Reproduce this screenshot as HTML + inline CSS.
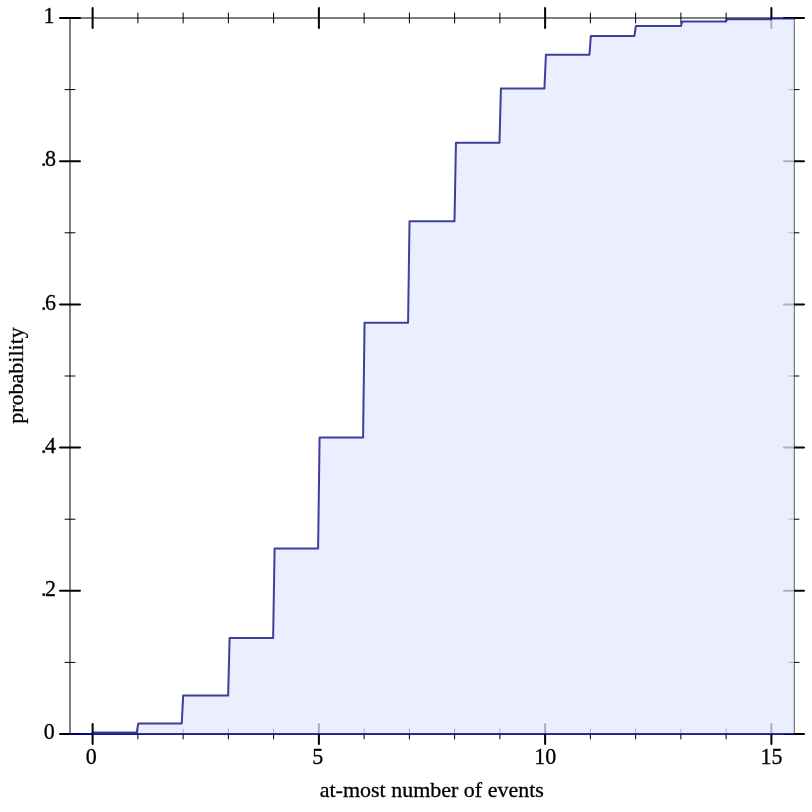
<!DOCTYPE html>
<html lang="en">
<head>
<meta charset="utf-8">
<title>Poisson CDF plot</title>
<style>
html,body{margin:0;padding:0;background:#fff;}
body{width:812px;height:812px;overflow:hidden;}
svg{display:block;}
text{font-family:"Liberation Serif","DejaVu Serif",serif;font-size:22px;fill:#000;}
</style>
</head>
<body>
<svg width="812" height="812" viewBox="0 0 812 812">
<rect x="0" y="0" width="812" height="812" fill="#fff"/>

<g fill="none" stroke="#000">
<rect x="70" y="18" width="724" height="716" stroke-width="1" stroke-opacity="1"/>
<path d="M92.62 8 V28 M92.62 724 V744 M318.88 8 V28 M318.88 724 V744 M545.12 8 V28 M545.12 724 V744 M771.38 8 V28 M771.38 724 V744 M60 734 H80 M784 734 H804 M60 590.8 H80 M784 590.8 H804 M60 447.6 H80 M784 447.6 H804 M60 304.4 H80 M784 304.4 H804 M60 161.2 H80 M784 161.2 H804 M60 18 H80 M784 18 H804" stroke-width="2" stroke-linecap="round"/>
<path d="M137.88 13 V23 M137.88 729 V739 M183.12 13 V23 M183.12 729 V739 M228.38 13 V23 M228.38 729 V739 M273.62 13 V23 M273.62 729 V739 M364.12 13 V23 M364.12 729 V739 M409.38 13 V23 M409.38 729 V739 M454.62 13 V23 M454.62 729 V739 M499.88 13 V23 M499.88 729 V739 M590.38 13 V23 M590.38 729 V739 M635.62 13 V23 M635.62 729 V739 M680.88 13 V23 M680.88 729 V739 M726.12 13 V23 M726.12 729 V739 M65 662.4 H75 M789 662.4 H799 M65 519.2 H75 M789 519.2 H799 M65 376 H75 M789 376 H799 M65 232.8 H75 M789 232.8 H799 M65 89.6 H75 M789 89.6 H799" stroke-width="1" stroke-linecap="round"/>
</g>
<clipPath id="c"><rect x="69" y="17" width="726" height="718"/></clipPath>
<g clip-path="url(#c)">
<path d="M70 734 L91.76 734 L93.21 732.55 L136.74 732.55 L138.19 723.54 L181.72 723.54 L183.17 695.61 L228.15 695.61 L229.6 637.89 L273.13 637.89 L274.58 548.43 L318.1 548.43 L319.56 437.5 L363.08 437.5 L364.53 322.86 L408.06 322.86 L409.51 221.33 L454.49 221.33 L455.94 142.65 L499.47 142.65 L500.92 88.44 L544.44 88.44 L545.9 54.83 L589.42 54.83 L590.87 35.89 L634.4 35.89 L635.85 26.1 L680.83 26.1 L682.28 21.43 L725.81 21.43 L727.26 19.37 L770.79 19.37 L772.24 18.51 L794 18.51 L794 734 L70 734 Z" fill="rgb(228,232,255)" fill-opacity="0.75" stroke="none"/>
<path d="M70 734 H794" fill="none" stroke="rgb(0,2,123)" stroke-opacity="0.75" stroke-width="2" stroke-linecap="round"/>
<path d="M70 734 L91.76 734 L93.21 732.55 L136.74 732.55 L138.19 723.54 L181.72 723.54 L183.17 695.61 L228.15 695.61 L229.6 637.89 L273.13 637.89 L274.58 548.43 L318.1 548.43 L319.56 437.5 L363.08 437.5 L364.53 322.86 L408.06 322.86 L409.51 221.33 L454.49 221.33 L455.94 142.65 L499.47 142.65 L500.92 88.44 L544.44 88.44 L545.9 54.83 L589.42 54.83 L590.87 35.89 L634.4 35.89 L635.85 26.1 L680.83 26.1 L682.28 21.43 L725.81 21.43 L727.26 19.37 L770.79 19.37 L772.24 18.51 L794 18.51" fill="none" stroke="rgb(0,2,123)" stroke-opacity="0.75" stroke-width="2" stroke-linejoin="round" stroke-linecap="round"/>
</g>
<g stroke="#000" stroke-width="0.3" stroke-linejoin="round">
<text transform="translate(91.33 764.2) scale(1 1.07)" text-anchor="middle">0</text>
<text transform="translate(317.77 764.2) scale(1 1.07)" text-anchor="middle">5</text>
<text transform="translate(545.33 764.2) scale(1 1.07)" text-anchor="middle">10</text>
<text transform="translate(771.38 764.2) scale(1 1.07)" text-anchor="middle">15</text>
<text x="431.8" y="797.1" text-anchor="middle">at-most number of events</text>
<text transform="translate(23.3 375.5) rotate(-90)" text-anchor="middle">probability</text>
<text transform="translate(54.7 739.2) scale(1 1.07)" text-anchor="end">0</text>
<text transform="translate(55.9 596) scale(1 1.07)" text-anchor="end"><tspan>.</tspan><tspan dx="-1.6">2</tspan></text>
<text transform="translate(55.9 452.8) scale(1 1.07)" text-anchor="end"><tspan>.</tspan><tspan dx="-1.6">4</tspan></text>
<text transform="translate(55.9 309.6) scale(1 1.07)" text-anchor="end"><tspan>.</tspan><tspan dx="-1.6">6</tspan></text>
<text transform="translate(55.9 166.4) scale(1 1.07)" text-anchor="end"><tspan>.</tspan><tspan dx="-1.6">8</tspan></text>
<text transform="translate(54.6 23.2) scale(1 1.07)" text-anchor="end">1</text>
</g>
</svg>
</body>
</html>
